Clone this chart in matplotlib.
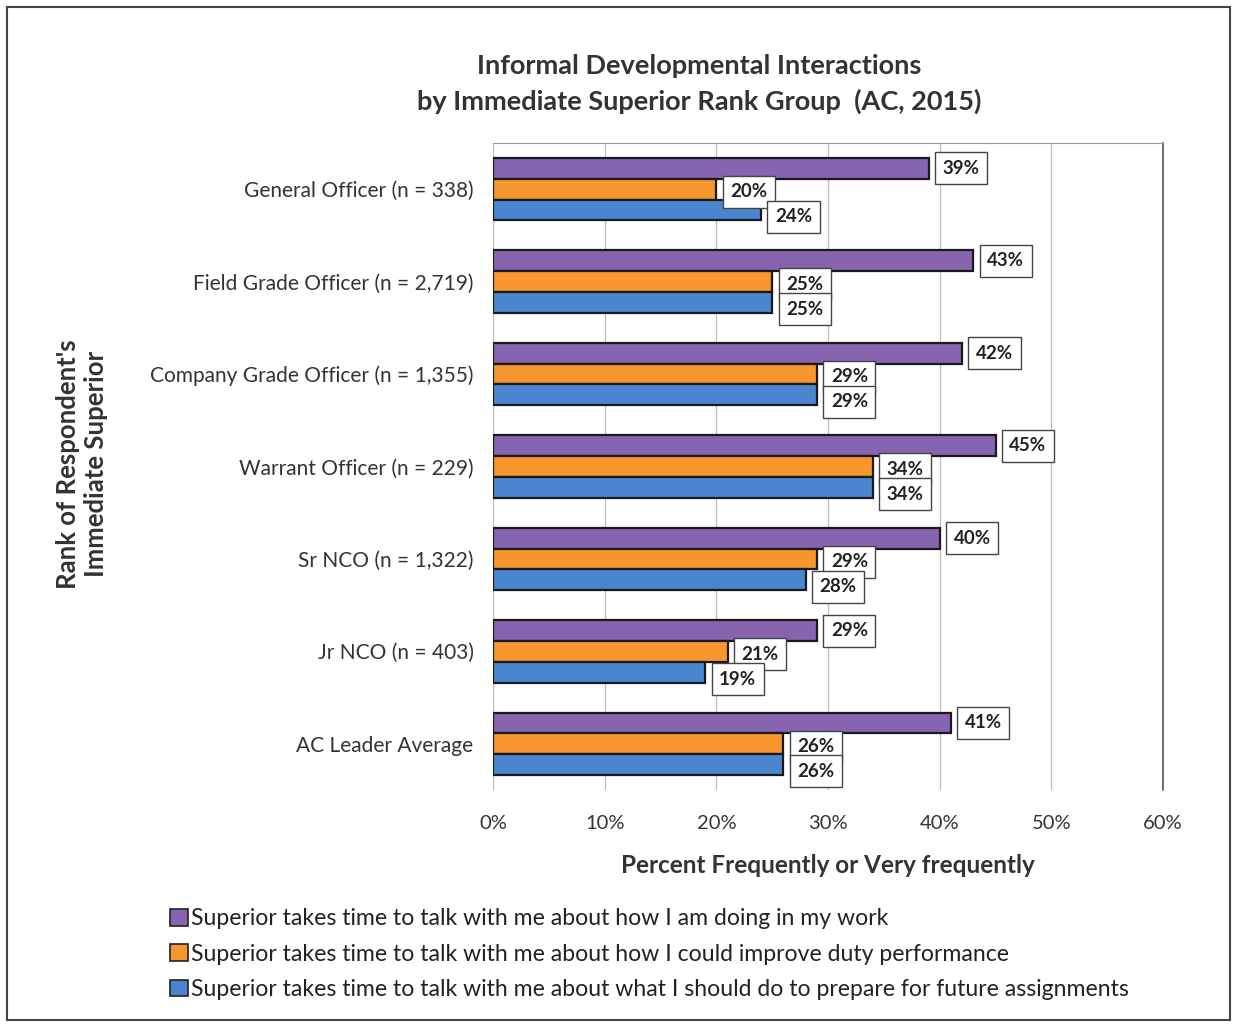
import numpy as np
import matplotlib
matplotlib.use("Agg")
import matplotlib.pyplot as plt
from matplotlib.patches import Patch, Rectangle

plt.rcParams['font.family'] = ['Lato', 'DejaVu Sans']

# data
categories = ["General Officer (n = 338)",
              "Field Grade Officer (n = 2,719)",
              "Company Grade Officer (n = 1,355)",
              "Warrant Officer (n = 229)",
              "Sr NCO (n = 1,322)",
              "Jr NCO (n = 403)",
              "AC Leader Average"]
doing_work = [39, 43, 42, 45, 40, 29, 41]
improve_duty = [20, 25, 29, 34, 29, 21, 26]
future_assign = [24, 25, 29, 34, 28, 19, 26]
series_names = ["Superior takes time to talk with me about how I am doing in my work",
                "Superior takes time to talk with me about how I could improve duty performance",
                "Superior takes time to talk with me about what I should do to prepare for future assignments"]
colors = ["#8664b0", "#f7962f", "#4a86cf"]
xticks = [0, 10, 20, 30, 40, 50, 60]

fig = plt.figure(figsize=(12.36, 10.25), dpi=100)
ax = fig.add_axes([0.3989, 0.2293, 0.5421, 0.6312])

y = np.arange(len(categories))
h = 0.225
offsets = [-h, 0, h]
label_dy = [0, -2, -5]
for vals, off, col, dy in zip([doing_work, improve_duty, future_assign], offsets, colors, label_dy):
    ax.barh(y + off, vals, height=h, color=col, edgecolor="#1a1a1a", linewidth=1.6, zorder=3)
    for yi, v in zip(y, vals):
        ax.annotate(f"{v}%", xy=(v, yi + off), xytext=(10, dy), textcoords="offset points",
                    ha="left", va="center", fontsize=13.5, fontweight="bold", color="#222222",
                    bbox=dict(boxstyle="square,pad=0.4", fc="white", ec="#444444", lw=1.0),
                    zorder=5)

ax.set_xlim(0, 60)
ax.set_ylim(len(categories) - 0.5, -0.5)
ax.set_xticks(xticks)
ax.set_xticklabels([f"{t}%" for t in xticks], fontsize=14.5, color="#333333")
ax.set_yticks(y)
ax.set_yticklabels(categories, fontsize=15, color="#333333")
ax.tick_params(axis="x", length=0, pad=18)
ax.tick_params(axis="y", length=0, pad=14)
ax.xaxis.grid(True, color="#bbbbbb", linewidth=0.9, zorder=0)
ax.set_axisbelow(True)
for s in ["left", "bottom"]:
    ax.spines[s].set_visible(False)
ax.spines["top"].set_color("#999999")
ax.spines["right"].set_color("#555555")
ax.spines["right"].set_linewidth(1.2)

ax.set_xlabel("Percent Frequently or Very frequently", fontsize=17.5, fontweight="bold",
              color="#333333", labelpad=16)

fig.text(0.566, 0.918, "Informal Developmental Interactions\nby Immediate Superior Rank Group  (AC, 2015)",
         ha="center", va="center", fontsize=19.5, fontweight="bold", color="#333333", linespacing=1.5)
fig.text(0.066, 0.547, "Rank of Respondent's\nImmediate Superior", rotation=90, ha="center", va="center",
         fontsize=18.5, fontweight="bold", color="#333333", linespacing=1.2)

handles = [Patch(facecolor=c, edgecolor="#222222", linewidth=1.2) for c in colors]
fig.legend(handles, series_names, loc="upper left", bbox_to_anchor=(0.121, 0.134),
           frameon=False, fontsize=16.6, handlelength=0.75, handleheight=0.75,
           handletextpad=0.15, labelspacing=0.62, labelcolor="#222222")

fig.patches.append(Rectangle((0.006, 0.005), 0.989, 0.988, transform=fig.transFigure,
                             fill=False, edgecolor="#444444", linewidth=1.5))

fig.savefig("out.png", dpi=100)
